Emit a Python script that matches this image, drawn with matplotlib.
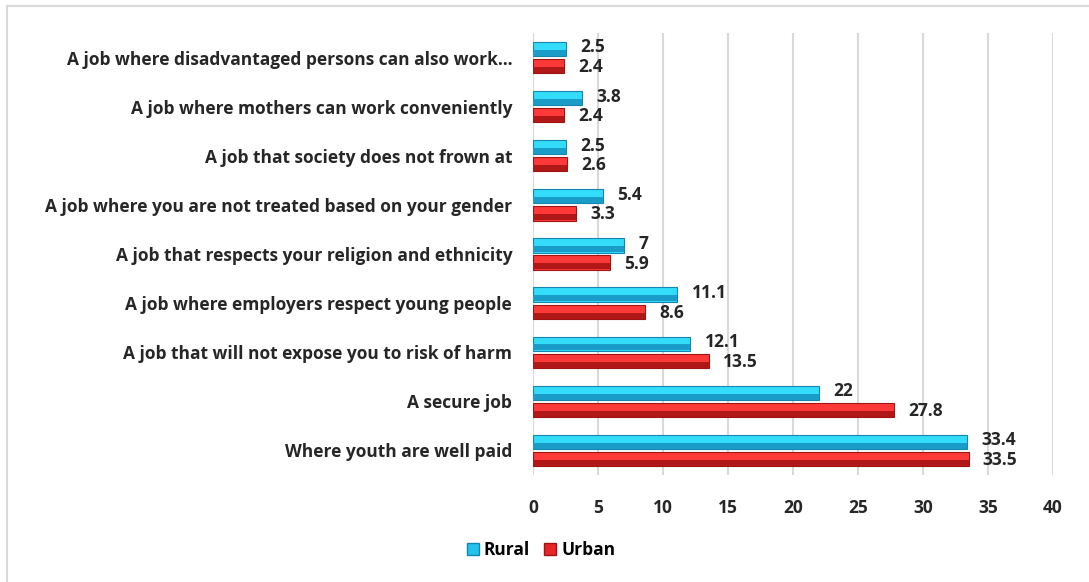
import matplotlib.pyplot as plt
from matplotlib.lines import Line2D
import numpy as np

categories = [
    "A job where disadvantaged persons can also work…",
    "A job where mothers can work conveniently",
    "A job that society does not frown at",
    "A job where you are not treated based on your gender",
    "A job that respects your religion and ethnicity",
    "A job where employers respect young people",
    "A job that will not expose you to risk of harm",
    "A secure job",
    "Where youth are well paid",
]
rural = [2.5, 3.8, 2.5, 5.4, 7, 11.1, 12.1, 22, 33.4]
urban = [2.4, 2.4, 2.6, 3.3, 5.9, 8.6, 13.5, 27.8, 33.5]
xticks = [0, 5, 10, 15, 20, 25, 30, 35, 40]

FONT = ["Open Sans", "DejaVu Sans"]
TXT = "#262626"
FS = 12.5

fig = plt.figure(figsize=(10.89, 5.82), dpi=100)
ax = fig.add_axes([533 / 1089, 1 - 475 / 582, 520 / 1089, 442 / 582])

y = np.arange(len(categories))
off = 0.175
h = 0.29

def bevel_bars(yc, vals, light, dark, edge):
    # bright upper face with a darker lower face for a bevelled look
    ax.barh(yc, vals, height=h, color=light, edgecolor=edge, linewidth=0.8, zorder=3)
    ax.barh(yc + h * 0.27, vals, height=h * 0.42, color=dark, linewidth=0, zorder=4)

bevel_bars(y - off, rural, "#33DDFA", "#1A9CC8", "#1685B0")
bevel_bars(y + off, urban, "#FF3838", "#B01818", "#A01414")

for yi, r, u in zip(y, rural, urban):
    ax.text(r + 1.1, yi - off - 0.03, f"{r:g}", va="center", ha="left",
            fontsize=FS, fontweight="bold", color=TXT, family=FONT)
    ax.text(u + 1.1, yi + off + 0.02, f"{u:g}", va="center", ha="left",
            fontsize=FS, fontweight="bold", color=TXT, family=FONT)

ax.set_xlim(0, 40)
ax.set_ylim(len(categories) - 0.5, -0.5)
ax.set_xticks(xticks)
ax.set_xticklabels([str(t) for t in xticks], fontsize=FS, fontweight="bold",
                   color=TXT, family=FONT)
ax.set_yticks(y)
ax.set_yticklabels(categories, fontsize=FS, fontweight="bold", color=TXT,
                   family=FONT)
ax.tick_params(axis="both", length=0)
ax.tick_params(axis="x", pad=17)
ax.tick_params(axis="y", pad=15)
ax.grid(axis="x", color="#d9d9d9", linewidth=1.5, zorder=0)
ax.set_axisbelow(True)
for s in ax.spines.values():
    s.set_visible(False)

handles = [
    plt.Rectangle((0, 0), 1, 1, facecolor="#22C4EE", edgecolor="#1685B0"),
    plt.Rectangle((0, 0), 1, 1, facecolor="#E82424", edgecolor="#A01414"),
]
fig.legend(handles, ["Rural", "Urban"], loc="center", bbox_to_anchor=(541 / 1089, 1 - 550 / 582),
           ncol=2, frameon=False, handlelength=0.7, handleheight=0.7,
           handletextpad=0.3, columnspacing=0.8,
           prop={"family": FONT, "weight": "bold", "size": FS})

# chart frame
fig.add_artist(Line2D([7 / 1089, 1], [1 - 6 / 582] * 2, color="#d9d9d9", linewidth=1.5))
fig.add_artist(Line2D([7 / 1089] * 2, [0, 1 - 6 / 582], color="#d9d9d9", linewidth=1.5))

fig.savefig("out.png", dpi=100)
